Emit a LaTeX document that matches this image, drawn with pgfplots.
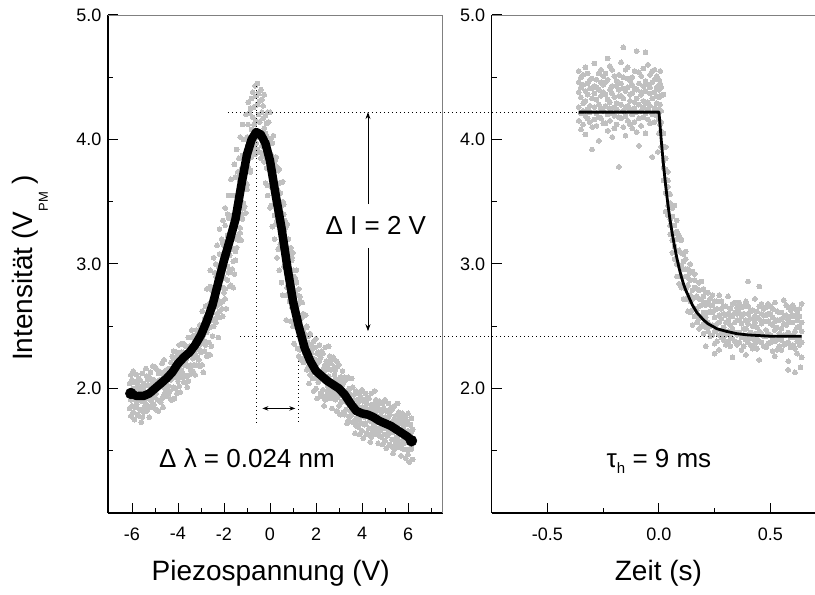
\documentclass[border=0pt]{standalone}
\usepackage{fontspec}
\setmainfont{Liberation Sans}
\usepackage{pgfplots}
\pgfplotsset{compat=1.18}
\usepackage{pgfplotstable}
\usetikzlibrary{arrows.meta}
\definecolor{dotgray}{RGB}{192,192,192}
\definecolor{framegray}{RGB}{128,128,128}

\pgfplotstableread{
x a b c
-6.10 2.04 1.84 1.98
-6.05 1.91 2.11 1.78
-6.00 2.07 1.93 1.86
-5.95 1.81 2.00 2.14
-5.90 1.98 1.75 2.05
-5.85 1.85 2.05 1.91
-5.80 2.11 1.87 2.00
-5.75 1.93 2.03 1.79
-5.70 2.08 1.78 1.94
-5.65 1.83 1.96 2.07
-5.60 1.99 1.90 1.73
-5.55 1.77 2.12 2.01
-5.50 2.04 1.81 1.98
-5.45 1.89 2.02 1.85
-5.40 1.96 2.16 1.87
-5.35 1.82 1.92 2.10
-5.30 2.03 1.86 2.07
-5.25 1.94 2.09 1.77
-5.20 2.13 1.91 1.85
-5.15 1.90 2.02 2.07
-5.10 1.85 2.04 2.18
-5.05 2.07 1.87 2.01
-5.00 2.17 1.93 2.06
-4.95 1.96 2.16 1.83
-4.90 1.91 2.04 2.15
-4.85 2.05 1.82 2.12
-4.80 2.13 1.90 2.07
-4.75 2.03 2.13 1.89
-4.70 1.92 2.02 2.20
-4.65 2.11 2.02 1.85
-4.60 2.23 2.01 1.95
-4.55 2.01 2.14 1.97
-4.50 2.15 2.01 1.94
-4.45 2.11 1.94 2.15
-4.40 1.96 2.16 2.02
-4.35 1.98 2.10 2.15
-4.30 2.21 1.91 2.07
-4.25 1.91 2.26 2.15
-4.20 2.10 2.30 2.01
-4.15 2.09 2.24 1.92
-4.10 2.20 2.00 2.14
-4.05 2.09 2.29 1.96
-4.00 2.27 2.13 2.06
-3.95 2.02 2.21 2.35
-3.90 2.20 1.97 2.27
-3.85 2.09 2.29 2.15
-3.80 2.36 2.12 2.25
-3.75 2.19 2.29 2.05
-3.70 2.35 2.05 2.21
-3.65 2.10 2.23 2.34
-3.60 2.27 2.18 2.01
-3.55 2.06 2.41 2.30
-3.50 2.34 2.11 2.28
-3.45 2.19 2.32 2.15
-3.40 2.27 2.47 2.18
-3.35 2.14 2.24 2.42
-3.30 2.36 2.19 2.40
-3.25 2.28 2.43 2.11
-3.20 2.47 2.25 2.19
-3.15 2.25 2.37 2.42
-3.10 2.43 2.23 2.37
-3.05 2.31 2.51 2.18
-3.00 2.50 2.36 2.29
-2.95 2.19 2.44 2.62
-2.90 2.43 2.13 2.52
-2.85 2.30 2.56 2.38
-2.80 2.66 2.35 2.52
-2.75 2.45 2.58 2.26
-2.70 2.66 2.27 2.48
-2.65 2.37 2.54 2.68
-2.60 2.61 2.49 2.27
-2.55 2.34 2.79 2.65
-2.50 2.72 2.42 2.64
-2.45 2.55 2.72 2.50
-2.40 2.67 2.93 2.56
-2.35 2.53 2.66 2.90
-2.30 2.82 2.60 2.87
-2.25 2.71 2.98 2.41
-2.20 3.08 2.68 2.57
-2.15 2.69 2.90 2.99
-2.10 3.00 2.64 2.90
-2.05 2.81 3.17 2.58
-2.00 3.15 2.89 2.77
-1.95 2.72 3.06 3.31
-1.90 3.05 2.64 3.18
-1.85 2.87 3.23 2.98
-1.80 3.37 2.93 3.17
-1.75 3.07 3.25 2.82
-1.70 3.37 2.83 3.12
-1.65 2.96 3.20 3.39
-1.60 3.28 3.12 2.81
-1.55 2.92 3.55 3.36
-1.50 3.44 3.03 3.33
-1.45 3.20 3.44 3.13
-1.40 3.38 3.74 3.22
-1.35 3.19 3.37 3.69
-1.30 3.60 3.29 3.67
-1.25 3.49 3.76 3.19
-1.20 3.87 3.47 3.36
-1.15 3.49 3.70 3.79
-1.10 3.82 3.46 3.72
-1.05 3.64 4.00 3.41
-1.00 4.02 3.76 3.64
-0.95 4.12 3.78 3.96
-0.90 3.85 4.21 3.99
-0.85 4.25 3.90 3.74
-0.80 4.08 4.33 3.86
-0.75 3.92 4.18 4.38
-0.70 4.26 3.95 4.12
-0.65 4.43 4.07 3.88
-0.60 4.15 4.35 3.97
-0.55 3.92 4.28 4.45
-0.50 4.20 4.02 4.37
-0.45 4.31 3.90 4.14
-0.40 4.06 4.40 3.85
-0.35 4.22 3.95 4.32
-0.30 3.88 4.17 4.27
-0.25 4.09 4.36 3.82
-0.20 4.19 3.86 4.05
-0.15 4.13 3.77 4.03
-0.10 3.86 4.22 3.63
-0.05 4.14 3.88 3.76
0.00 3.63 3.97 4.22
0.05 3.88 3.47 4.01
0.10 3.61 3.97 3.72
0.15 4.03 3.59 3.83
0.20 3.64 3.82 3.39
0.25 3.86 3.32 3.61
0.30 3.35 3.59 3.78
0.35 3.59 3.43 3.12
0.40 3.13 3.76 3.57
0.45 3.57 3.16 3.46
0.50 3.23 3.47 3.16
0.55 3.30 3.66 3.14
0.60 2.98 3.16 3.48
0.65 3.28 2.97 3.35
0.70 3.05 3.32 2.75
0.75 3.32 2.92 2.81
0.80 2.83 3.04 3.13
0.85 3.06 2.70 2.96
0.90 2.77 3.13 2.54
0.95 3.03 2.77 2.65
1.00 2.50 2.84 3.09
1.05 2.77 2.36 2.90
1.10 2.52 2.88 2.63
1.15 2.95 2.51 2.75
1.20 2.57 2.75 2.32
1.25 2.80 2.26 2.55
1.30 2.31 2.55 2.74
1.35 2.57 2.41 2.23
1.40 2.24 2.69 2.57
1.45 2.59 2.21 2.48
1.50 2.29 2.44 2.24
1.55 2.35 2.59 2.24
1.60 2.15 2.27 2.49
1.65 2.37 2.17 2.42
1.70 2.25 2.43 2.04
1.75 2.44 2.18 2.11
1.80 2.14 2.29 2.35
1.85 2.32 2.08 2.24
1.90 2.14 2.38 1.98
1.95 2.33 2.17 2.08
2.00 2.00 2.23 2.40
2.05 2.20 1.92 2.28
2.10 2.05 2.29 2.12
2.15 2.35 2.07 2.22
2.20 2.13 2.25 1.96
2.25 2.30 1.94 2.13
2.30 1.99 2.14 2.28
2.35 2.17 2.06 1.86
2.40 1.91 2.33 2.19
2.45 2.22 1.94 2.15
2.50 2.02 2.17 1.97
2.55 2.10 2.34 1.99
2.60 1.92 2.04 2.26
2.65 2.15 1.95 2.20
2.70 2.05 2.23 1.84
2.75 2.25 1.99 1.92
2.80 1.96 2.11 2.17
2.85 2.15 1.91 2.07
2.90 1.98 2.22 1.82
2.95 2.18 2.02 1.93
3.00 1.86 2.05 2.19
3.05 2.02 1.79 2.09
3.10 1.89 2.09 1.95
3.15 2.14 1.90 2.03
3.20 1.95 2.05 1.81
3.25 2.09 1.79 1.95
3.30 1.83 1.96 2.07
3.35 1.98 1.89 1.72
3.40 1.74 2.09 1.98
3.45 2.00 1.77 1.94
3.50 1.82 1.95 1.78
3.55 1.88 2.08 1.79
3.60 1.73 1.83 2.01
3.65 1.91 1.74 1.95
3.70 1.81 1.96 1.64
3.75 1.98 1.76 1.70
3.80 1.74 1.86 1.91
3.85 1.89 1.69 1.83
3.90 1.76 1.96 1.63
3.95 1.93 1.79 1.72
4.00 1.66 1.85 1.99
4.05 1.83 1.60 1.90
4.10 1.71 1.91 1.77
4.15 1.96 1.72 1.85
4.20 1.78 1.88 1.64
4.25 1.93 1.63 1.79
4.30 1.68 1.81 1.92
4.35 1.83 1.74 1.57
4.40 1.61 1.96 1.85
4.45 1.87 1.64 1.81
4.50 1.71 1.84 1.67
4.55 1.78 1.98 1.69
4.60 1.63 1.73 1.91
4.65 1.82 1.65 1.86
4.70 1.73 1.88 1.56
4.75 1.90 1.68 1.62
4.80 1.66 1.78 1.83
4.85 1.81 1.61 1.75
4.90 1.68 1.88 1.55
4.95 1.84 1.70 1.63
5.00 1.58 1.77 1.91
5.05 1.75 1.52 1.82
5.10 1.62 1.82 1.68
5.15 1.88 1.64 1.77
5.20 1.69 1.79 1.55
5.25 1.84 1.54 1.70
5.30 1.59 1.72 1.83
5.35 1.74 1.65 1.48
5.40 1.51 1.86 1.75
5.45 1.78 1.55 1.72
5.50 1.61 1.74 1.57
5.55 1.68 1.88 1.59
5.60 1.53 1.63 1.81
5.65 1.72 1.55 1.76
5.70 1.63 1.78 1.46
5.75 1.80 1.58 1.52
5.80 1.56 1.68 1.73
5.85 1.71 1.51 1.65
5.90 1.57 1.77 1.44
5.95 1.74 1.60 1.51
6.00 1.47 1.66 1.80
6.05 1.64 1.41 1.71
6.10 1.51 1.71 1.57
6.15 1.76 1.52 1.65
6.20 1.57 1.67 1.43
}\leftscatter

\pgfplotstableread{
x y
-2.75 2.80
-2.60 2.95
-2.45 3.05
-2.30 3.15
-2.20 3.28
-2.05 3.35
-1.95 3.45
-1.80 3.55
-1.70 3.68
-1.55 3.80
-1.45 3.92
-1.30 4.02
-1.20 4.12
-1.05 4.20
-0.95 4.30
-2.60 2.82
-2.35 3.00
-2.10 3.20
-1.85 3.40
-1.65 3.55
-1.50 3.70
-1.35 3.85
-1.15 4.00
-2.20 2.62
-1.95 2.80
-1.75 2.95
-1.50 3.10
-1.30 3.25
-1.15 3.45
-1.00 3.60
-0.85 3.75
-2.05 2.70
-1.60 3.02
-1.40 3.20
-1.20 3.40
0.25 3.85
0.40 3.65
0.55 3.50
0.70 3.30
0.85 3.10
1.00 2.95
1.15 2.85
1.30 2.70
1.45 2.60
1.60 2.50
0.35 3.75
0.60 3.40
0.80 3.20
0.95 3.05
1.10 2.78
1.25 2.68
-0.20 3.65
0.00 3.45
0.20 3.20
0.40 2.95
0.55 2.75
0.70 2.55
-0.10 3.55
0.10 3.30
0.30 3.05
0.50 2.85
}\leftextra

\pgfplotstableread{
t a b c d e
-0.36 4.38 4.15 4.55 4.26 4.46
-0.35 4.21 4.42 4.08 4.50 4.34
-0.34 4.52 4.29 4.44 4.12 4.23
-0.33 4.31 4.58 4.19 4.39 4.04
-0.32 4.45 4.24 4.36 4.53 4.17
-0.31 4.14 4.48 4.27 4.22 4.41
-0.30 4.41 4.10 4.49 4.33 3.92
-0.29 4.26 4.37 4.61 4.16 4.43
-0.28 4.48 4.21 4.32 4.42 4.11
-0.27 4.18 4.53 4.40 4.28 3.99
-0.26 4.35 4.17 4.46 4.56 4.25
-0.25 4.23 4.44 4.13 4.38 4.51
-0.24 4.46 4.27 4.53 4.13 4.36
-0.23 4.32 4.07 4.48 4.20 4.65
-0.22 4.15 4.40 4.25 4.59 4.30
-0.21 4.02 4.37 4.21 4.56 4.43
-0.20 4.19 4.51 4.34 4.26 4.09
-0.19 4.43 4.24 4.12 4.47 4.29
-0.18 4.35 3.78 4.18 4.52 4.40
-0.17 4.62 4.28 4.45 4.17 4.35
-0.16 4.23 4.41 4.10 4.33 4.50
-0.15 4.39 4.03 4.56 4.26 4.19
-0.14 4.27 4.49 4.15 4.42 4.58
-0.13 4.12 4.36 4.47 4.24 4.31
-0.12 4.50 4.20 4.37 4.09 4.44
-0.11 4.25 4.55 4.30 4.14 4.41
-0.10 4.40 4.71 4.22 4.33 4.06
-0.09 4.17 4.45 4.28 4.54 3.95
-0.08 4.36 4.11 4.51 4.23 4.38
-0.07 4.57 4.26 4.43 4.18 4.31
-0.06 4.21 4.47 4.05 4.39 4.29
-0.05 4.44 4.30 4.16 4.60 4.24
-0.04 4.13 4.37 4.52 4.27 4.42
-0.03 4.33 4.55 4.20 4.46 3.86
-0.02 4.48 4.25 4.38 4.14 4.56
-0.01 4.29 4.42 4.19 4.51 4.35
0.00 4.34 4.16 4.48 4.24 4.40
0.005 4.45 4.28 4.12 4.55 4.35
0.01 3.94 4.14 4.42 4.23 4.07
0.02 4.05 3.83 4.36 3.67 3.77
0.03 3.68 3.94 3.57 3.76 3.42
0.04 3.67 3.47 3.57 3.74 3.39
0.05 3.24 3.56 3.36 3.31 3.49
0.06 3.38 3.09 3.47 3.31 3.19
0.07 3.14 3.25 3.47 3.04 3.31
0.08 3.26 3.00 3.11 3.20 2.90
0.09 2.90 3.23 3.11 2.99 2.84
0.10 2.99 2.81 3.09 3.19 2.90
0.11 2.81 3.02 2.72 2.96 3.08
0.12 2.90 2.72 3.04 2.80 2.96
0.13 2.72 2.89 2.62 2.96 2.83
0.14 2.93 2.75 2.87 2.61 2.70
0.15 2.72 2.94 2.63 2.79 2.51
0.16 2.81 2.64 2.73 2.87 2.58
0.17 2.53 2.80 2.63 2.59 2.74
0.18 2.72 2.48 2.79 2.66 2.56
0.19 2.58 2.67 2.86 2.50 2.72
0.20 2.74 2.52 2.61 2.69 2.44
0.21 2.49 2.77 2.67 2.57 2.34
0.22 2.61 2.46 2.69 2.77 2.53
0.23 2.50 2.67 2.42 2.62 2.72
0.24 2.61 2.43 2.75 2.51 2.67
0.25 2.46 2.63 2.36 2.70 2.57
0.26 2.70 2.52 2.64 2.38 2.47
0.27 2.53 2.75 2.43 2.59 2.31
0.28 2.64 2.47 2.56 2.70 2.41
0.29 2.39 2.66 2.49 2.45 2.60
0.30 2.59 2.35 2.66 2.53 2.43
0.31 2.46 2.55 2.74 2.38 2.60
0.32 2.64 2.42 2.51 2.59 2.34
0.33 2.40 2.68 2.58 2.48 2.25
0.34 2.53 2.38 2.61 2.69 2.45
0.35 2.43 2.60 2.35 2.55 2.65
0.36 2.55 2.37 2.69 2.45 2.61
0.37 2.41 2.58 2.31 2.65 2.52
0.38 2.66 2.48 2.60 2.34 2.43
0.39 2.48 2.70 2.39 2.55 2.27
0.40 2.60 2.43 2.52 2.66 2.37
0.41 2.35 2.62 2.45 2.41 2.56
0.42 2.56 2.32 2.63 2.50 2.40
0.43 2.44 2.53 2.72 2.36 2.58
0.44 2.62 2.40 2.49 2.57 2.32
0.45 2.38 2.66 2.56 2.46 2.23
0.46 2.52 2.37 2.60 2.68 2.44
0.47 2.42 2.59 2.34 2.54 2.64
0.48 2.65 2.47 2.59 2.33 2.42
0.49 2.54 2.36 2.68 2.44 2.60
0.50 2.60 2.43 2.52 2.66 2.37
0.51 2.40 2.57 2.30 2.64 2.51
0.52 2.47 2.69 2.38 2.54 2.26
0.53 2.55 2.31 2.62 2.49 2.39
0.54 2.34 2.61 2.44 2.40 2.55
0.55 2.61 2.39 2.48 2.56 2.31
0.56 2.43 2.52 2.71 2.35 2.57
0.57 2.51 2.36 2.59 2.67 2.43
0.58 2.37 2.65 2.55 2.45 2.22
0.59 2.41 2.58 2.33 2.53 2.63
0.60 2.53 2.35 2.67 2.43 2.59
0.61 2.64 2.46 2.58 2.32 2.41
0.62 2.38 2.55 2.28 2.62 2.49
0.63 2.58 2.41 2.50 2.64 2.35
0.64 2.46 2.68 2.37 2.53 2.25
}\rightscatter

\tikzset{dotline/.style={line width=1bp, dash pattern=on 1.2bp off 2.8bp}}
\pgfplotsset{
  panel/.style={
    scale only axis, height=498bp, ymin=1, ymax=5,
    axis x line*=bottom, axis y line*=left,
    axis line style={line width=1.3bp, black},
    tick align=inside,
    major tick length=10bp, minor tick length=5bp,
    tick style={black, line width=1bp},
    ytick={2,3,4,5}, yticklabels={2.0,3.0,4.0,5.0},
    minor ytick={1.5,2.5,3.5,4.5},
    tick label style={font=\fontsize{18bp}{20bp}\selectfont},
    xticklabel style={yshift=-11bp},
    yticklabel style={xshift=-3bp},
    label style={font=\fontsize{28bp}{30bp}\selectfont},
    clip=false,
    clip marker paths=true,
  },
  dots/.style={only marks, mark=*, color=dotgray, mark size=2.4bp, mark options={draw=dotgray, fill=dotgray, line width=0pt}},
}

\begin{document}
\begin{tikzpicture}
\path[use as bounding box] (0,0) rectangle (815bp,595bp);

\begin{axis}[panel, at={(107.85bp,82bp)}, anchor=south west,
  width=334.65bp, xmin=-7.05, xmax=7.5,
  xtick={-6,-4,-2,0,2,4,6}, xticklabels={-6,-4,-2,0,2,4,6},
  minor xtick={-5,-3,-1,1,3,5,7},
  xlabel={Piezospannung (V)},
  ylabel={Intensität (V\raisebox{-15bp}{\fontsize{13bp}{13bp}\selectfont PM} )},
  xlabel style={at={(axis description cs:0.4866,-0.1365)}, anchor=base},
  ylabel style={at={(axis description cs:-0.2237,0.492)}, anchor=base},
]
\draw[framegray, line width=0.8bp] (rel axis cs:0,1) -- (rel axis cs:1,1) -- (rel axis cs:1,0);
\addplot[dots] table[x index=0, y index=1] \leftscatter;
\addplot[dots] table[x index=0, y index=2] \leftscatter;
\addplot[dots] table[x index=0, y index=3] \leftscatter;
\addplot[dots] table[x index=0, y index=1] \leftextra;
\addplot[black, no marks, line width=8.5bp, line join=round, line cap=round] coordinates {
(-6.05,1.96) (-5.8,1.94) (-5.5,1.94) (-5.25,1.96) (-5.0,2.00) (-4.75,2.04)
(-4.5,2.08) (-4.25,2.13) (-4.0,2.20) (-3.75,2.25) (-3.5,2.29) (-3.25,2.35)
(-3.0,2.43) (-2.75,2.54) (-2.5,2.67) (-2.25,2.85) (-2.0,3.03) (-1.75,3.19)
(-1.5,3.36) (-1.25,3.63) (-1.0,3.88) (-0.8,4.00) (-0.6,4.06) (-0.4,4.04)
(-0.2,3.97) (0.0,3.83) (0.25,3.55) (0.5,3.29) (0.75,2.98) (1.0,2.70)
(1.25,2.50) (1.5,2.33) (1.75,2.22) (2.0,2.14) (2.25,2.10) (2.5,2.06)
(2.75,2.03) (3.0,2.00) (3.25,1.95) (3.5,1.88) (3.75,1.82) (4.0,1.80)
(4.25,1.79) (4.5,1.77) (4.75,1.74) (5.0,1.72) (5.25,1.70) (5.5,1.67)
(5.75,1.64) (6.0,1.61) (6.15,1.58)};
\addplot[only marks, mark=*, mark size=5.5bp, black] coordinates {(-6.05,1.96) (6.15,1.58)};
\draw[dotline] (axis cs:-0.6,4.43) -- (axis cs:-0.6,1.73);
\draw[dotline] (axis cs:1.26,2.22) -- (axis cs:1.26,1.73);
\draw[line width=0.9bp, {Stealth[length=6bp,width=4.5bp]}-{Stealth[length=6bp,width=4.5bp]}] (axis cs:-0.33,1.84) -- (axis cs:1.10,1.84);
\draw[line width=0.9bp, -{Stealth[length=7bp,width=5bp]}] (axis cs:4.26,3.48) -- (axis cs:4.26,4.22);
\draw[line width=0.9bp, -{Stealth[length=7bp,width=5bp]}] (axis cs:4.26,3.13) -- (axis cs:4.26,2.46);
\node[anchor=base, font=\fontsize{26bp}{28bp}\selectfont, inner sep=0pt] at (axis cs:4.6,3.237) {Δ I = 2 V};
\node[anchor=base, font=\fontsize{26bp}{28bp}\selectfont, inner sep=0pt] at (axis cs:-1.0,1.365) {Δ λ = 0.024 nm};
\coordinate (L1) at (axis cs:-1.83,4.22);
\coordinate (L2) at (axis cs:-1.3,2.42);
\end{axis}

\begin{axis}[panel, at={(491.75bp,82bp)}, anchor=south west,
  width=325.5bp, xmin=-0.75, xmax=0.71,
  xtick={-0.5,0,0.5}, xticklabels={-0.5,0.0,0.5},
  minor xtick={-0.25,0.25},
  xlabel={Zeit (s)},
  xlabel style={at={(axis description cs:0.512,-0.1365)}, anchor=base},
]
\draw[framegray, line width=0.8bp] (rel axis cs:0,1) -- (rel axis cs:1,1);
\addplot[dots] table[x index=0, y index=1] \rightscatter;
\addplot[dots] table[x index=0, y index=2] \rightscatter;
\addplot[dots] table[x index=0, y index=3] \rightscatter;
\addplot[dots] table[x index=0, y index=4] \rightscatter;
\addplot[dots] table[x index=0, y index=5] \rightscatter;
\addplot[dots] coordinates {(0.58,2.15) (0.61,2.13) (0.635,2.17) (0.40,2.86) (0.45,2.82) (-0.16,4.74) (-0.06,4.70) (0.25,2.28)
(0.04,3.62) (0.06,3.45) (0.08,3.35) (0.10,3.20) (0.12,3.10) (0.14,3.00) (0.16,2.92) (0.18,2.85) (0.20,2.80)
(0.03,3.85) (0.015,3.95) (0.0,4.05) (-0.005,3.90)};
\addplot[black, no marks, line width=2.8bp, line join=round] coordinates {
(-0.36,4.22) (0.0,4.22) (0.01,4.00) (0.02,3.80) (0.03,3.63) (0.04,3.48)
(0.05,3.35) (0.06,3.24) (0.07,3.14) (0.08,3.05) (0.09,2.97) (0.10,2.90)
(0.11,2.84) (0.12,2.79) (0.13,2.75) (0.14,2.71) (0.15,2.67) (0.16,2.64)
(0.17,2.61) (0.18,2.59) (0.19,2.57) (0.20,2.55) (0.22,2.52) (0.24,2.50)
(0.26,2.48) (0.28,2.47) (0.30,2.46) (0.35,2.44) (0.40,2.43) (0.45,2.425)
(0.50,2.42) (0.55,2.42) (0.64,2.42)};
\node[anchor=base, font=\fontsize{26bp}{28bp}\selectfont, inner sep=0pt] at (axis cs:0.0,1.365) {τ\raisebox{-6bp}{\fontsize{15bp}{15bp}\selectfont h} = 9 ms};
\coordinate (R1) at (axis cs:-0.365,4.22);
\coordinate (R2) at (axis cs:0.33,2.42);
\end{axis}

\draw[dotline] (L1) -- (R1);
\draw[dotline] (L2) -- (R2);
\end{tikzpicture}
\end{document}
